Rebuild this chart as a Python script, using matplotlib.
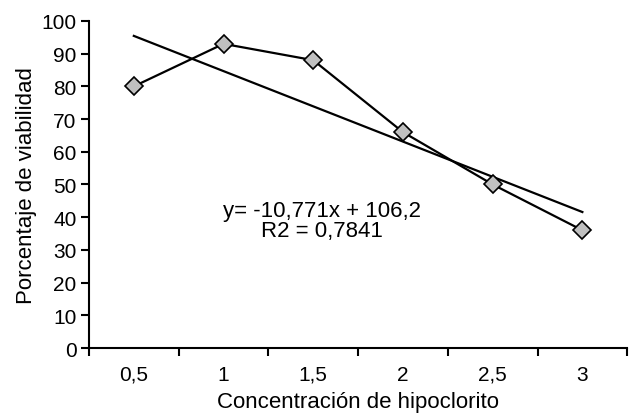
import numpy as np
from matplotlib import pyplot as plt

plt.rcParams['font.family'] = ['Liberation Sans', 'DejaVu Sans']

# Data
categorias = ['0,5', '1', '1,5', '2', '2,5', '3']
viabilidad = [80, 93, 88, 66, 50, 36]
# Excel linear trendline (x = category index 1..6)
pendiente = -10.771
intercepto = 106.2
r2 = 0.7841

x = np.arange(1, len(categorias) + 1)

fig = plt.figure(figsize=(6.31, 4.14), dpi=100)
ax = fig.add_axes([0.141, 0.157, 0.853, 0.79])

ax.plot(x, viabilidad, color='black', lw=1.6, marker='D', markersize=9,
        markerfacecolor='#c0c0c0', markeredgecolor='black', markeredgewidth=1.2,
        zorder=3)
ax.plot(x, pendiente * x + intercepto, color='black', lw=1.6, zorder=2)

ax.set_xlim(0.5, len(categorias) + 0.5)
ax.set_ylim(0, 100)
ax.set_yticks(range(0, 101, 10))
ax.set_xticks(x)
ax.set_xticklabels(categorias)
ax.set_xticks(np.arange(0.5, len(categorias) + 1, 1), minor=True)

ax.tick_params(axis='x', which='major', length=0, pad=12, labelsize=15)
ax.tick_params(axis='x', which='minor', length=6, width=1.5, direction='out')
ax.tick_params(axis='y', length=6, width=1.5, direction='out', labelsize=15, pad=3)

for s in ['top', 'right']:
    ax.spines[s].set_visible(False)
for s in ['left', 'bottom']:
    ax.spines[s].set_linewidth(1.5)

ax.set_xlabel('Concentración de hipoclorito', fontsize=16, labelpad=5)
ax.set_ylabel('Porcentaje de viabilidad', fontsize=16, labelpad=3)

ax.text(3.1, 39, 'y= {:.3f}x + {:.1f}\nR2 = {:.4f}'.format(pendiente, intercepto, r2).replace('.', ','),
        ha='center', va='center', fontsize=16, linespacing=0.9)

fig.savefig('out.png', dpi=100)
